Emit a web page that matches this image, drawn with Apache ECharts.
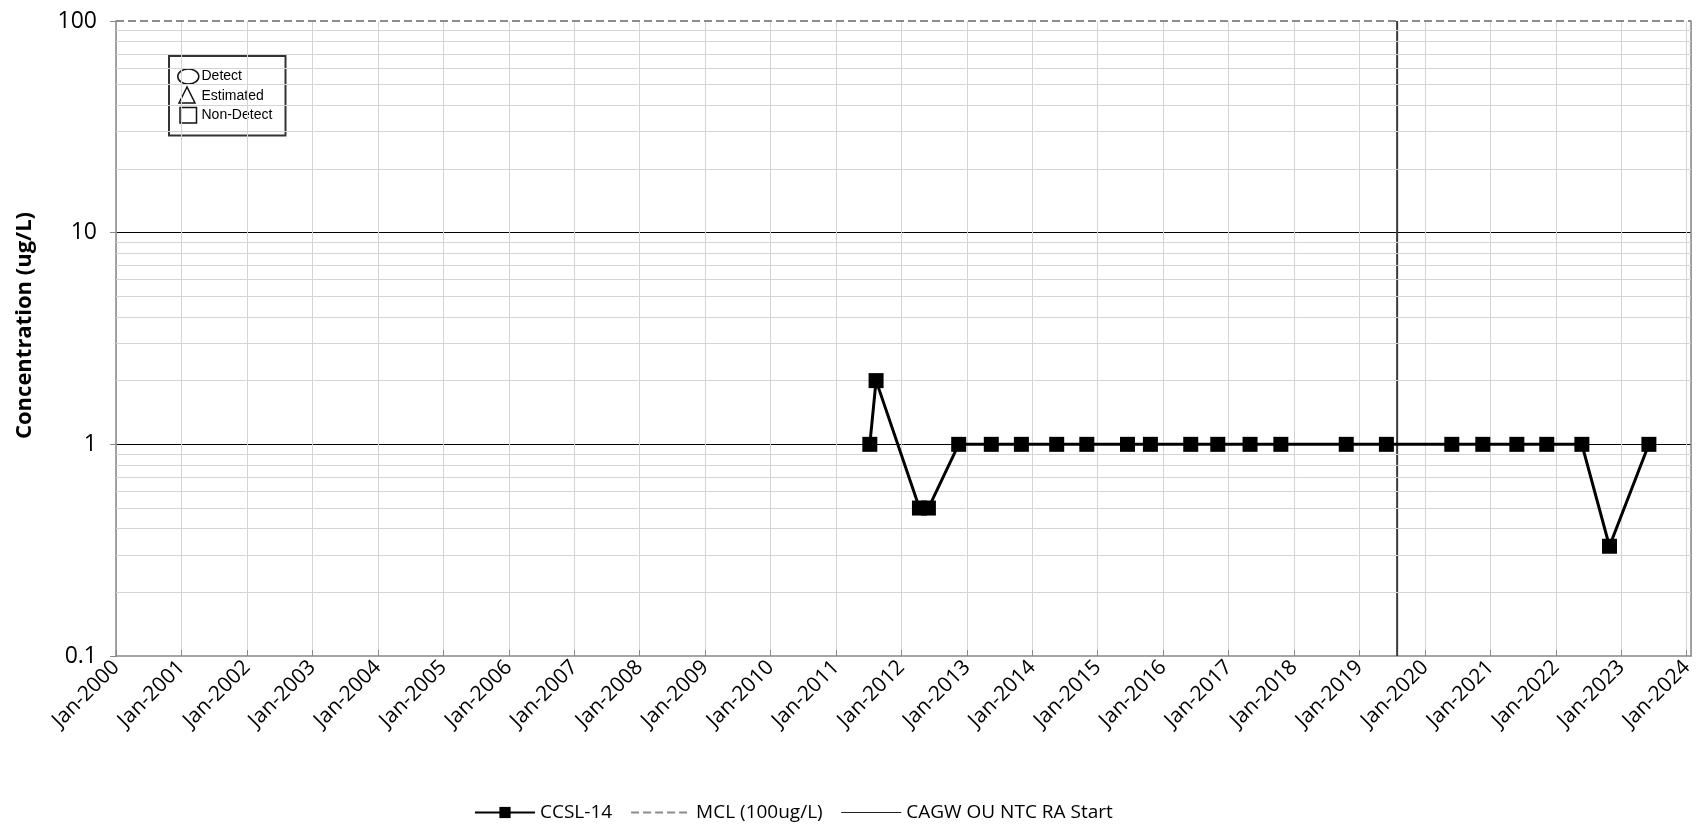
<!DOCTYPE html>
<html>
<head>
<meta charset="utf-8">
<title>CCSL-14 Concentration</title>
<script src="https://cdn.jsdelivr.net/npm/echarts@6/dist/echarts.min.js"></script>
<style>
  html, body { margin: 0; padding: 0; background: #fff; }
  #chart { width: 1704px; height: 825px; }
</style>
</head>
<body>
<div id="chart"></div>
<script>
// Sample dates and concentrations for well CCSL-14 (ug/L)
const sampleDates = [
  '2011-07-09', '2011-08-13', '2012-04-11', '2012-05-31', '2012-11-16',
  '2013-05-17', '2013-11-01', '2014-05-17', '2014-11-01', '2015-06-16',
  '2015-10-22', '2016-06-03', '2016-11-01', '2017-04-30', '2017-10-19',
  '2018-10-19', '2019-05-31', '2020-05-30', '2020-11-19', '2021-05-28',
  '2021-11-11', '2022-05-26', '2022-10-27', '2023-06-04'
];
const concentrations = [
  1, 2, 0.5, 0.5, 1,
  1, 1, 1, 1, 1,
  1, 1, 1, 1, 1,
  1, 1, 1, 1, 1,
  1, 1, 0.33, 1
];

// Reference levels
const mclValue = 100;
const raStartDate = '2019-07-30';

// Axis ranges
const xStart = '2000-01-01';
const xEnd = '2024-01-25';
const yMin = 0.1;
const yMax = 100;

// Intermediate log gridlines (2..9 in each decade)
const minorGridValues = [
  0.2, 0.3, 0.4, 0.5, 0.6, 0.7, 0.8, 0.9,
  2, 3, 4, 5, 6, 7, 8, 9,
  20, 30, 40, 50, 60, 70, 80, 90
];

// Symbol key entries
const keyLabels = ['Detect', 'Estimated', 'Non-Detect'];

const FONT = '"Open Sans", "Noto Sans", sans-serif';
const KEY_FONT = '14px "Liberation Sans", Arial, sans-serif';
const YEAR_MS = 365 * 24 * 3600 * 1000;
const CLEAR = 'rgba(0,0,0,0)';

const chart = echarts.init(document.getElementById('chart'), null, { renderer: 'canvas' });

const seriesData = sampleDates.map((d, i) => [d, concentrations[i]]);
const mclData = [[xStart, mclValue], [xEnd, mclValue]];
const raStartData = [[raStartDate, yMin], [raStartDate, yMax]];

// line-only legend entries (marker hidden)
const lineOnlyKey = { color: CLEAR, borderColor: CLEAR, borderWidth: 0 };

const option = {
  backgroundColor: '#ffffff',
  animation: false,
  textStyle: { fontFamily: FONT },
  grid: { left: 116, right: 13, top: 21, bottom: 169, containLabel: false },
  legend: {
    data: [
      { name: 'CCSL-14' },
      { name: 'MCL (100ug/L)', itemStyle: lineOnlyKey },
      { name: 'CAGW OU NTC RA Start', itemStyle: lineOnlyKey, lineStyle: { width: 1.2, color: '#222' } }
    ],
    left: 469,
    top: 798,
    itemWidth: 60,
    itemHeight: 14,
    itemGap: 18,
    textStyle: { fontFamily: FONT, fontSize: 19, color: '#000' },
    selectedMode: false
  },
  xAxis: {
    type: 'time',
    min: xStart,
    max: xEnd,
    minInterval: YEAR_MS,
    maxInterval: YEAR_MS,
    axisLine: { show: true, lineStyle: { color: '#888', width: 1.5 } },
    axisTick: { show: true, inside: true, length: 6, lineStyle: { color: '#888', width: 1 } },
    axisLabel: {
      rotate: 45,
      fontSize: 21,
      color: '#000',
      fontFamily: FONT,
      margin: 8,
      hideOverlap: false,
      showMaxLabel: false,
      formatter: '{MMM}-{yyyy}'
    },
    splitLine: { show: true, lineStyle: { color: '#d4d4d4', width: 1 } }
  },
  yAxis: [
    {
      type: 'log',
      logBase: 10,
      min: yMin,
      max: yMax,
      name: 'Concentration (ug/L)',
      nameLocation: 'middle',
      nameGap: 80,
      nameTextStyle: {
        fontFamily: FONT, fontSize: 22, fontWeight: 'bold', color: '#000',
        padding: [0, 0, 0, 26]
      },
      axisLine: { show: true, lineStyle: { color: '#888', width: 1.5 } },
      axisTick: { show: true, length: 6, lineStyle: { color: '#888' } },
      axisLabel: { fontSize: 23, color: '#000', fontFamily: FONT, margin: 19 },
      splitLine: {
        show: true,
        showMinLine: false,
        showMaxLine: false,
        lineStyle: { color: '#000', width: 1 }
      }
    },
    {
      type: 'log',
      logBase: 10,
      min: yMin,
      max: yMax,
      position: 'right',
      axisLine: { show: true, lineStyle: { color: '#888', width: 1.5 } },
      axisTick: { show: false },
      axisLabel: { show: false },
      splitLine: { show: false }
    }
  ],
  series: [
    {
      // light intermediate gridlines for the log scale
      name: 'minor-grid',
      type: 'line',
      data: [],
      silent: true,
      z: 1,
      markLine: {
        silent: true,
        symbol: ['none', 'none'],
        label: { show: false },
        lineStyle: { color: '#d4d4d4', width: 1, type: 'solid' },
        emphasis: { disabled: true },
        data: minorGridValues.map(v => ({ yAxis: v }))
      }
    },
    {
      name: 'MCL (100ug/L)',
      type: 'line',
      data: mclData,
      symbol: 'none',
      showSymbol: false,
      silent: true,
      z: 3,
      lineStyle: { color: '#8c8c8c', width: 2, type: [8, 4] },
      itemStyle: { color: '#8c8c8c' }
    },
    {
      name: 'CAGW OU NTC RA Start',
      type: 'line',
      data: raStartData,
      symbol: 'none',
      showSymbol: false,
      silent: true,
      z: 3,
      lineStyle: { color: '#3a3a3a', width: 2, type: 'solid' },
      itemStyle: { color: '#3a3a3a' }
    },
    {
      name: 'CCSL-14',
      type: 'line',
      data: seriesData,
      symbol: 'rect',
      symbolSize: 15,
      showAllSymbol: true,
      z: 5,
      lineStyle: { color: '#000', width: 3 },
      itemStyle: { color: '#000' }
    }
  ],
  graphic: [
    {
      type: 'group',
      left: 158,
      top: 49,
      z: 10,
      children: [
        { type: 'rect', shape: { x: 0, y: 0, width: 134, height: 93 }, style: { fill: '#fff' } },
        { type: 'rect', shape: { x: 11, y: 7, width: 116.5, height: 79.5 }, style: { fill: '#fff', stroke: '#333', lineWidth: 2 } },
        { type: 'ellipse', shape: { cx: 30.3, cy: 27.5, rx: 10.5, ry: 7.5 }, style: { fill: 'none', stroke: '#111', lineWidth: 1.5 } },
        { type: 'polygon', shape: { points: [[29, 38], [21, 54], [37, 54]] }, style: { fill: 'none', stroke: '#111', lineWidth: 1.5 } },
        { type: 'rect', shape: { x: 22, y: 58.5, width: 16.5, height: 15.5 }, style: { fill: 'none', stroke: '#111', lineWidth: 1.5 } },
        { type: 'text', x: 43.5, y: 27.5, style: { text: keyLabels[0], font: KEY_FONT, fill: '#000', verticalAlign: 'middle' } },
        { type: 'text', x: 43.5, y: 47, style: { text: keyLabels[1], font: KEY_FONT, fill: '#000', verticalAlign: 'middle' } },
        { type: 'text', x: 43.5, y: 66.5, style: { text: keyLabels[2], font: KEY_FONT, fill: '#000', verticalAlign: 'middle' } }
      ]
    }
  ]
};

chart.setOption(option);
</script>
</body>
</html>
